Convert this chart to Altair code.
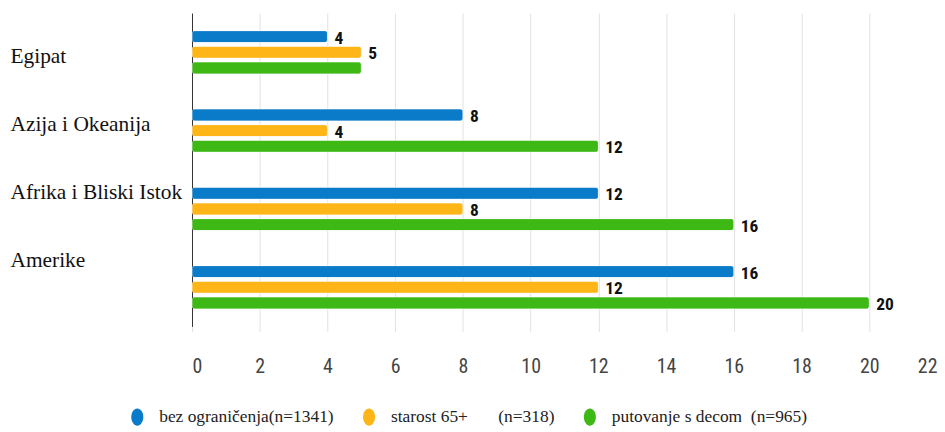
import altair as alt
import pandas as pd

regions = ["Egipat", "Azija i Okeanija", "Afrika i Bliski Istok", "Amerike"]
series = ["bez ograničenja(n=1341)",
          "starost 65+\u00a0\u00a0\u00a0\u00a0\u00a0\u00a0\u00a0(n=318)",
          "putovanje s decom\u00a0\u00a0(n=965)"]
colors = ["#0A7BC8", "#FDB517", "#3DB814"]
bez = [4, 8, 12, 16]
starost = [5, 4, 8, 12]
deca = [5, 12, 16, 20]
# value labels as printed (green Egipat bar carries no label)
bez_lbl = ["4", "8", "12", "16"]
starost_lbl = ["5", "4", "8", "12"]
deca_lbl = ["", "12", "16", "20"]

rows = []
for vals, lbls, s in [(bez, bez_lbl, series[0]), (starost, starost_lbl, series[1]), (deca, deca_lbl, series[2])]:
    for r, v, l in zip(regions, vals, lbls):
        rows.append({"region": r, "series": s, "value": v, "label": l})
df = pd.DataFrame(rows)

label_offsets = [5, -6, -16, -26]
narrow = "Liberation Sans Narrow, Arial Narrow, Roboto Condensed, Liberation Sans, sans-serif"

y_enc = alt.Y("region:N", sort=regions, title=None,
              scale=alt.Scale(paddingInner=0.4, paddingOuter=0.2),
              axis=alt.Axis(labelAlign="left", labelPadding=183, ticks=False,
                            labelFont="Liberation Serif", labelFontSize=21.5, labelColor="#111",
                            labelBaseline="middle", labelLimit=300,
                            domain=True, domainColor="#333", domainWidth=1,
                            labelOffset={"condition": [
                                {"test": f"datum.value === '{r}'", "value": o}
                                for r, o in zip(regions[:-1], label_offsets[:-1])],
                                "value": label_offsets[-1]}))
yoff = alt.YOffset("series:N", sort=series,
                   scale=alt.Scale(paddingInner=0.24, paddingOuter=0.12))
x_enc = alt.X("value:Q", title=None,
              scale=alt.Scale(domain=[0, 22], nice=False),
              axis=alt.Axis(values=list(range(0, 23, 2)), grid=True, gridColor="#e2e2e2",
                            domain=False, ticks=True, tickColor="#e2e2e2", tickSize=5,
                            labelFont=narrow, labelFontSize=20,
                            labelColor="#444", labelPadding=25))

ellipse = "M0,-1 A0.7,1 0 1,1 0,1 A0.7,1 0 1,1 0,-1 Z"

bars = alt.Chart(df).mark_bar(cornerRadius=3, stroke="white", strokeOpacity=0.35, strokeWidth=1).encode(
    x=x_enc, y=y_enc, yOffset=yoff,
    color=alt.Color("series:N", sort=series,
                    scale=alt.Scale(domain=series, range=colors),
                    legend=alt.Legend(orient="none", legendX=-64, legendY=397, direction="horizontal",
                                      title=None, symbolType=ellipse, symbolSize=300,
                                      symbolStrokeWidth=0, labelFont="Liberation Serif",
                                      labelFontSize=17.5, labelColor="#222", columnPadding=26,
                                      labelOffset=13, labelLimit=400)),
)

texts = alt.Chart(df).mark_text(align="left", baseline="middle", dx=7, dy=2,
                                font=narrow, fontSize=17.5,
                                fontWeight="bold", color="#111").encode(
    x="value:Q", y=alt.Y("region:N", sort=regions), yOffset=alt.YOffset("series:N", sort=series),
    text="label:N",
)

chart = alt.layer(bars, texts).properties(
    width=749, height=315,
    autosize=alt.AutoSizeParams(type="none"),
    padding={"left": 185, "top": 4, "right": 0, "bottom": 104},
).configure_view(stroke=None)

chart.save("out.html", embed_options={"renderer": "svg", "actions": False})
